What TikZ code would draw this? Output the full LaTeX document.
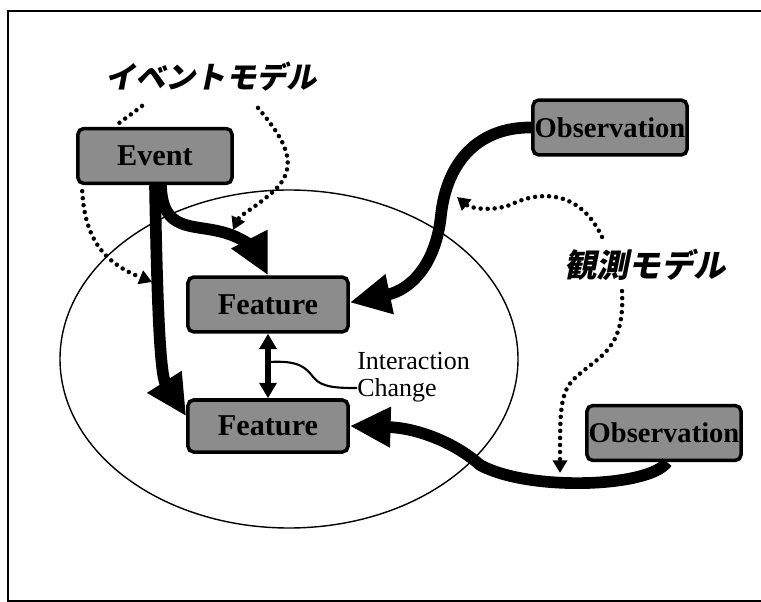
\documentclass[tikz,border=0pt]{standalone}
\usepackage{fontspec}
\setmainfont{Liberation Serif}
\newfontfamily\jpfont[FakeSlant=0.2]{Noto Sans CJK JP}
\usetikzlibrary{arrows.meta,calc}

\begin{document}
\begin{tikzpicture}[x=0.025cm,y=-0.025cm]
\tikzset{box style/.style={shape=rectangle,draw=black,line width=2.5pt,rounded corners=4pt,fill=black!45,
                           minimum width=3.85cm,minimum height=1.37cm,inner sep=0pt,
                           font=\fontsize{21.5}{25}\selectfont\bfseries},
         obs style/.style={box style,font=\fontsize{20.3}{24}\selectfont\bfseries},
         model style/.style={inner sep=0pt,font=\jpfont\bfseries\fontsize{21.5}{26}\selectfont},
         thick arrow/.style={line width=8.3pt,-{Triangle[length=29pt,width=27pt]}},
         dot arrow/.style={line width=3.2pt,line cap=round,dash pattern=on 0pt off 5pt,
                           -{Triangle[length=9pt,width=10pt]}}}

\useasboundingbox (0,0) rectangle (761,602);
\draw[line width=1.4pt] (761,11) -- (8,11) -- (8,601) -- (761,601);
\draw[line width=1pt] (289,359) ellipse [x radius=229, y radius=169];

\node[box style] at (155, 156)     (event)   {Event};
\node[obs style] at (610, 127.5)   (obs1)    {Observation};
\node[box style, minimum width=4cm] at (268, 304.5)   (feat1)   {Feature};
\node[box style, minimum width=4cm, minimum height=1.3cm] at (268, 426)   (feat2)   {Feature};
\node[obs style] at (664, 433)     (obs2)    {Observation};

\node[model style] at (211, 77)    (evmodel) {イベントモデル};
\node[model style, font=\jpfont\bfseries\fontsize{23}{28}\selectfont] at (645, 265)   (obmodel) {観測モデル};
\node[anchor=west, align=left, inner sep=0pt, font=\fontsize{18.5}{19.5}\selectfont] at (357, 377) (txt) {Interaction\\Change};

\coordinate (p1) at (152, 282);
\coordinate (p2) at (233, 230);
\coordinate (p3) at (457, 197);
\coordinate (p4) at (560, 473);

\draw[thick arrow] (event.south) .. controls (157,300) and (160,375) .. ($(feat2.north west)+(0,18)$);
\draw[thick arrow] ($(event.south)+(6,0)$) .. controls (162,232) and (192,224) .. (222,232)
                   .. controls (246,238) and (256,252) .. (feat1.north);
\draw[thick arrow] (obs1.west) .. controls (480,127) and (447,160) .. (441,215)
                   .. controls (436,265) and (410,290) .. ($(feat1.east)+(0,-2)$);
\draw[thick arrow] ($(obs2.south)+(3,0)$) .. controls (650,487) and (530,492) .. (480,465)
                   .. controls (458,445) and (420,428) .. (feat2.east);

\draw[line width=4pt, {Triangle[length=11pt,width=12pt]}-{Triangle[length=11pt,width=12pt]}]
            (feat1.south) -- coordinate[pos=0.44] (mid) (feat2.north);
\draw[line width=1.5pt] (mid) .. controls (300,360) and (306,368) .. (314,378)
                   .. controls (322,388) and (340,388) .. ($(txt.west)+(0,11)$);

\draw[dot arrow, -] ($(evmodel.south)+(-69,14)$) .. controls (132,114) and (120,122) .. ($(event.north west)+(38,0)$);
\draw[dot arrow] ($(evmodel.south)+(47,16)$) .. controls (285,140) and (300,165) .. (275,190)
                   .. controls (255,208) and (240,215) .. (p2);
\draw[dot arrow] ($(event.south west)+(6,6)$) .. controls (85,245) and (110,265) .. (p1);
\draw[dot arrow] ($(obmodel.north)+(-43,-12)$) .. controls (580,190) and (540,190) .. (510,205)
                   .. controls (490,212) and (470,208) .. (p3);
\draw[dot arrow] ($(obmodel.south)+(-23,10)$) .. controls (625,350) and (600,355) .. (575,378)
                   .. controls (560,392) and (560,410) .. (p4);
\end{tikzpicture}
\end{document}
